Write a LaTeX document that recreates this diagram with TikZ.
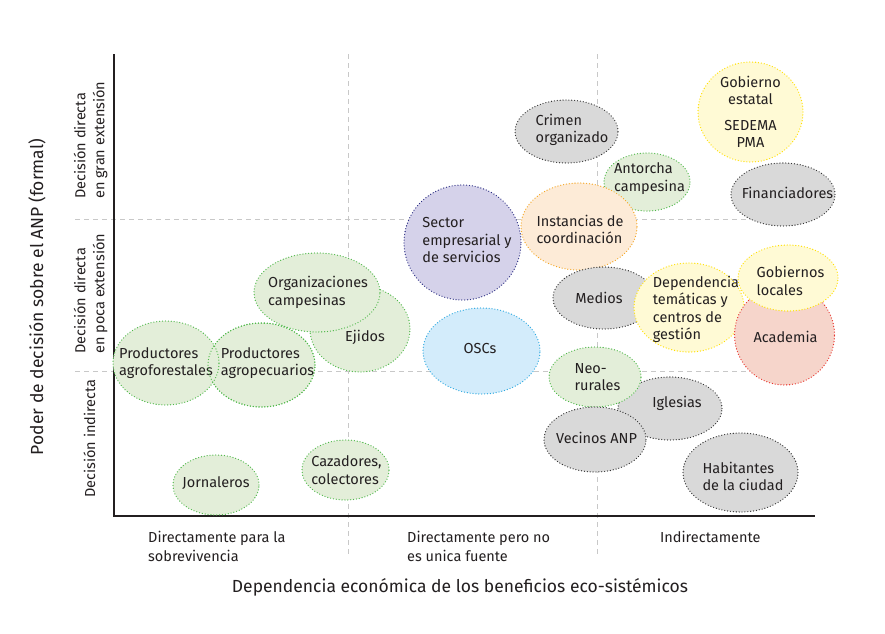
\documentclass[tikz,border=0pt]{standalone}
\usepackage{fontspec}
\setmainfont{Fira Sans}
\usetikzlibrary{shapes.geometric}
\definecolor{txt}{HTML}{231F20}
\definecolor{gridc}{HTML}{C8C8C8}
\definecolor{gfill}{HTML}{D9D9D9}
\definecolor{gline}{HTML}{333333}
\definecolor{vfill}{HTML}{E3EED9}
\definecolor{vline}{HTML}{4DB848}
\definecolor{yfill}{HTML}{FFFAD5}
\definecolor{yline}{HTML}{FFE100}
\definecolor{ofill}{HTML}{FDEBD7}
\definecolor{oline}{HTML}{F5A623}
\definecolor{pfill}{HTML}{D5D2EA}
\definecolor{pline}{HTML}{2B2E83}
\definecolor{bfill}{HTML}{D3ECFB}
\definecolor{bline}{HTML}{29A8E0}
\definecolor{rfill}{HTML}{F6D5CB}
\definecolor{rline}{HTML}{E8322B}
\begin{document}
\begin{tikzpicture}[x=1pt,y=-1pt,
  lbl/.style={font=\fontsize{14.5}{17.5}\selectfont, text=txt, inner sep=0pt, align=left},
  bub/.style={ellipse, inner sep=0pt, line width=1.3pt,
              dash pattern=on 0pt off 2.9pt, line cap=round},
  sz/.style 2 args={minimum width=#1pt, minimum height=#2pt},
  graybub/.style={bub, fill=gfill, draw=gline},
  greenbub/.style={bub, fill=vfill, draw=vline},
  yellowbub/.style={bub, fill=yfill, draw=yline},
  orangebub/.style={bub, fill=ofill, draw=oline},
  purplebub/.style={bub, fill=pfill, draw=pline},
  bluebub/.style={bub, fill=bfill, draw=bline},
  redbub/.style={bub, fill=rfill, draw=rline},
  gridline/.style={draw=gridc, line width=1pt, dash pattern=on 5pt off 4pt},
  axisline/.style={draw=txt, line width=1.8pt},
  axlbl/.style={font=\fontsize{14.5}{19}\selectfont, text=txt, inner sep=0pt},
  titlelbl/.style={font=\fontsize{17.5}{20}\selectfont, text=txt, inner sep=0pt}]
\useasboundingbox (0,0) rectangle (885,633);
\fill[white] (0,0) rectangle (885,633);

% grid
\draw[gridline] (348,54) -- (348,555);
\draw[gridline] (597,54) -- (597,555);
\draw[gridline] (75,219) -- (815,219);
\draw[gridline] (75,371) -- (815,371);

% axes
\coordinate (top) at (114,54);
\coordinate (origin) at (114,516);
\coordinate (right) at (815,516);
\draw[axisline] (top) -- (origin) -- (right);

% bubbles
\node[graybub, sz={103}{63}, label={[lbl,xshift=5.5pt,yshift=1.5pt]center:Crimen\\organizado}] (crimen) at (566.5,131.5) {};
\node[greenbub, sz={86}{58}, label={[lbl,xshift=2.5pt,yshift=3.5pt]center:Antorcha\\campesina}] (antorcha) at (647,182) {};
\node[yellowbub, sz={105}{100}, label={[lbl,align=center]center:Gobierno\\estatal\\[8pt]SEDEMA\\PMA}] (gobest) at (750.5,112) {};
\node[graybub, sz={104}{63}, label={[lbl,xshift=4.5pt,yshift=2pt]center:Financiadores}] (financ) at (783,194.5) {};
\node[orangebub, sz={116}{87}, label={[lbl,xshift=1pt,yshift=-3pt]center:Instancias de\\coordinación}] (instanc) at (579,226.5) {};
\node[purplebub, sz={117}{115}, label={[lbl,xshift=4.5pt,yshift=2.5pt]center:Sector\\empresarial y\\de servicios}] (sector) at (462.5,242.5) {};
\node[bluebub, sz={117}{86}, label={[lbl,xshift=-1.5pt,yshift=3pt]center:OSCs}] (oscs) at (481.5,351) {};
\node[graybub, sz={102}{62}, label={[lbl,xshift=-5pt]center:Medios}] (medios) at (604,298) {};
\node[yellowbub, sz={110}{89}, label={[lbl,xshift=7pt,yshift=-2pt]center:Dependencia\\temáticas y\\centros de\\gestión}] (depend) at (689,307.5) {};
\node[redbub, sz={100}{100}, label={[lbl,xshift=1pt,yshift=-1.5pt]center:Academia}] (academia) at (784.5,335) {};
\node[yellowbub, sz={100}{66}, label={[lbl,xshift=2.5pt,yshift=-3pt]center:Gobiernos\\locales}] (goblocal) at (788,278) {};
\node[graybub, sz={104}{63}, label={[lbl,xshift=7pt,yshift=5pt]center:Iglesias}] (iglesias) at (670,408.5) {};
\node[greenbub, sz={92}{60}, label={[lbl,xshift=2.5pt]center:Neo-\\rurales}] (neo) at (595,377) {};
\node[graybub, sz={102}{65}, label={[lbl,xshift=1.5pt,yshift=1.5pt]center:Vecinos ANP}] (vecinos) at (595,439.5) {};
\node[graybub, sz={115}{79}, label={[lbl,xshift=2.5pt,yshift=-4pt]center:Habitantes\\de la ciudad}] (habit) at (740.5,472.5) {};
\node[greenbub, sz={100}{86}, label={[lbl,xshift=5pt,yshift=-8pt]center:Ejidos}] (ejidos) at (360,329) {};
\node[greenbub, sz={126}{79}, label={[lbl,xshift=1pt]center:Organizaciones\\campesinas}] (organiz) at (317,292.5) {};
\node[greenbub, sz={107}{84}, label={[lbl,xshift=6pt,yshift=2pt]center:Productores\\agropecuarios}] (agropec) at (261.5,365) {};
\node[greenbub, sz={106}{84}, label={[lbl]center:Productores\\agroforestales}] (agrofor) at (166,363) {};
\path[draw=vline, line width=1.3pt, dash pattern=on 0pt off 2.9pt, line cap=round]
  (agropec.center) ellipse [x radius=53.5pt, y radius=42pt];
\node[greenbub, sz={86}{60}, label={[lbl,yshift=2pt]center:Jornaleros}] (jornal) at (216,485) {};
\node[greenbub, sz={87}{60}, label={[lbl,xshift=1pt]center:Cazadores,\\colectores}] (cazad) at (345.5,470) {};

% axis category labels
\node[axlbl, anchor=west, align=left] (xl1) at (148,546) {Directamente para la\\sobrevivencia};
\node[axlbl, anchor=west, align=left] (xl2) at (407,546) {Directamente pero no\\es unica fuente};
\node[axlbl, anchor=west] (xl3) at (660,537) {Indirectamente};
\node[axlbl, anchor=west, align=left, rotate=90] (yl1) at (90.5,199) {Decisión directa\\en gran extensión};
\node[axlbl, anchor=west, align=left, rotate=90] (yl2) at (90.5,354) {Decisión directa\\en poca extensión};
\node[axlbl, anchor=west, rotate=90] (yl3) at (89.5,498) {Decisión indirecta};

% titles
\node[titlelbl] (xtitle) at (460,587) {Dependencia económica de los beneficios eco-sistémicos};
\node[titlelbl, rotate=90] (ytitle) at (37,297) {Poder de decisión sobre el ANP (formal)};
\end{tikzpicture}
\end{document}
